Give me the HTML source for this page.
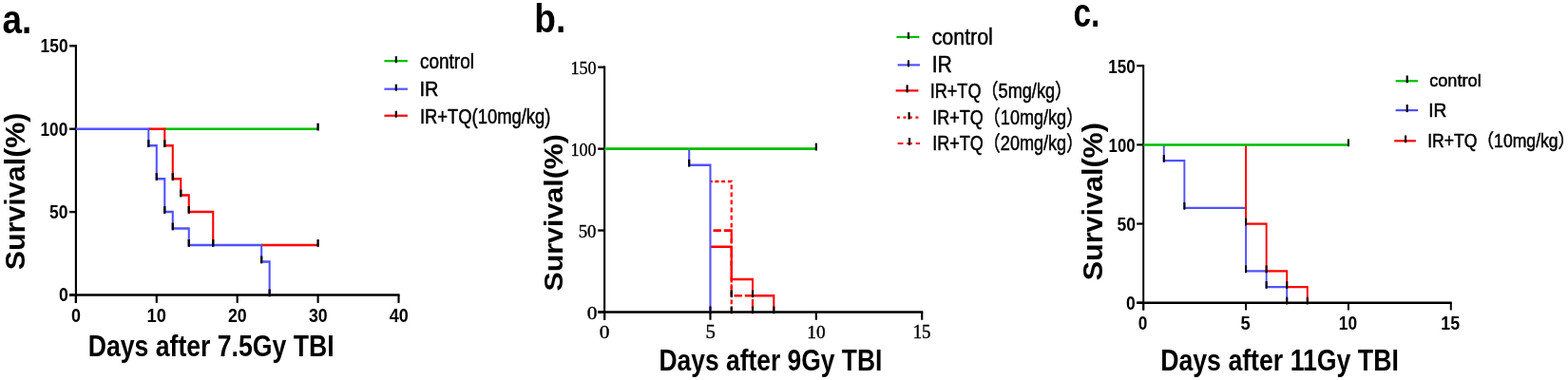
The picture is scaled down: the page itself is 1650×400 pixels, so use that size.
<!DOCTYPE html>
<html><head><meta charset="utf-8"><title>Survival curves</title>
<style>html,body{margin:0;padding:0;background:#fff;width:1650px;height:400px;overflow:hidden}svg{display:block}</style>
</head><body>
<svg width="1650" height="400" viewBox="0 0 1650 400">
<rect width="1650" height="400" fill="#fff"/>
<g transform="scale(0.83,1)">
<path d="M96.27,47.00 L96.27,318.90" stroke="#000" stroke-width="2.6" fill="none"/>
<path d="M88.07,310.50 L506.72,310.50" stroke="#000" stroke-width="2.6" fill="none"/>
<path d="M88.07,310.50 L96.27,310.50" stroke="#000" stroke-width="2.34" fill="none"/>
<path d="M88.07,223.10 L96.27,223.10" stroke="#000" stroke-width="2.34" fill="none"/>
<path d="M88.07,135.70 L96.27,135.70" stroke="#000" stroke-width="2.34" fill="none"/>
<path d="M88.07,48.30 L96.27,48.30" stroke="#000" stroke-width="2.34" fill="none"/>
<path d="M96.27,310.50 L96.27,318.90" stroke="#000" stroke-width="2.6" fill="none"/>
<path d="M198.55,310.50 L198.55,318.90" stroke="#000" stroke-width="2.6" fill="none"/>
<path d="M300.84,310.50 L300.84,318.90" stroke="#000" stroke-width="2.6" fill="none"/>
<path d="M403.13,310.50 L403.13,318.90" stroke="#000" stroke-width="2.6" fill="none"/>
<path d="M505.42,310.50 L505.42,318.90" stroke="#000" stroke-width="2.6" fill="none"/>
<path d="M208.78,135.70 L403.13,135.70" fill="none" stroke="#00bd00" stroke-width="2.6" stroke-linejoin="miter" stroke-linecap="butt"/>
<path d="M188.33,135.70 L208.78,135.70 L208.78,153.18 L219.01,153.18 L219.01,188.14 L229.24,188.14 L229.24,205.62 L239.47,205.62 L239.47,223.10 L270.16,223.10 L270.16,258.06" fill="none" stroke="#ff0000" stroke-width="2.5" stroke-linejoin="miter" stroke-linecap="butt"/>
<path d="M331.53,258.06 L403.13,258.06" fill="none" stroke="#ff0000" stroke-width="2.5" stroke-linejoin="miter" stroke-linecap="butt"/>
<path d="M96.27,135.70 L188.33,135.70 L188.33,153.18 L198.55,153.18 L198.55,188.14 L208.78,188.14 L208.78,223.10 L219.01,223.10 L219.01,240.58 L239.47,240.58 L239.47,258.06 L331.53,258.06 L331.53,275.54 L341.76,275.54 L341.76,310.50" fill="none" stroke="#5252ff" stroke-width="2.5" stroke-linejoin="miter" stroke-linecap="butt"/>
<path d="M208.78,147.18 L208.78,154.98" stroke="#000" stroke-width="2.8" fill="none"/>
<path d="M219.01,182.14 L219.01,189.94" stroke="#000" stroke-width="2.8" fill="none"/>
<path d="M229.24,199.62 L229.24,207.42" stroke="#000" stroke-width="2.8" fill="none"/>
<path d="M239.47,217.10 L239.47,224.90" stroke="#000" stroke-width="2.8" fill="none"/>
<path d="M270.16,252.06 L270.16,259.86" stroke="#000" stroke-width="2.8" fill="none"/>
<path d="M403.13,252.06 L403.13,259.86" stroke="#000" stroke-width="2.8" fill="none"/>
<path d="M188.33,147.18 L188.33,154.98" stroke="#000" stroke-width="2.8" fill="none"/>
<path d="M198.55,182.14 L198.55,189.94" stroke="#000" stroke-width="2.8" fill="none"/>
<path d="M208.78,217.10 L208.78,224.90" stroke="#000" stroke-width="2.8" fill="none"/>
<path d="M219.01,234.58 L219.01,242.38" stroke="#000" stroke-width="2.8" fill="none"/>
<path d="M239.47,252.06 L239.47,259.86" stroke="#000" stroke-width="2.8" fill="none"/>
<path d="M331.53,269.54 L331.53,277.34" stroke="#000" stroke-width="2.8" fill="none"/>
<path d="M341.76,304.50 L341.76,312.30" stroke="#000" stroke-width="2.8" fill="none"/>
<path d="M403.13,129.70 L403.13,137.50" stroke="#000" stroke-width="2.8" fill="none"/>
<path d="M487.23,64.20 L516.75,64.20" stroke="#00bd00" stroke-width="2.2" fill="none"/>
<path d="M502.17,59.20 L502.17,66.20" stroke="#000" stroke-width="2.6" fill="none"/>
<path d="M487.23,93.70 L516.75,93.70" stroke="#5252ff" stroke-width="2.2" fill="none"/>
<path d="M502.17,88.70 L502.17,95.70" stroke="#000" stroke-width="2.6" fill="none"/>
<path d="M487.23,121.75 L516.75,121.75" stroke="#ff0000" stroke-width="2.2" fill="none"/>
<path d="M502.17,116.75 L502.17,123.75" stroke="#000" stroke-width="2.6" fill="none"/>
<path d="M766.39,69.45 L766.39,336.75" stroke="#000" stroke-width="2.6" fill="none"/>
<path d="M758.07,328.45 L1170.22,328.45" stroke="#000" stroke-width="2.6" fill="none"/>
<path d="M758.07,328.45 L766.39,328.45" stroke="#000" stroke-width="2.34" fill="none"/>
<path d="M758.07,242.55 L766.39,242.55" stroke="#000" stroke-width="2.34" fill="none"/>
<path d="M758.07,156.65 L766.39,156.65" stroke="#000" stroke-width="2.34" fill="none"/>
<path d="M758.07,70.75 L766.39,70.75" stroke="#000" stroke-width="2.34" fill="none"/>
<path d="M766.39,328.45 L766.39,336.75" stroke="#000" stroke-width="2.6" fill="none"/>
<path d="M900.56,328.45 L900.56,336.75" stroke="#000" stroke-width="2.6" fill="none"/>
<path d="M1034.74,328.45 L1034.74,336.75" stroke="#000" stroke-width="2.6" fill="none"/>
<path d="M1168.92,328.45 L1168.92,336.75" stroke="#000" stroke-width="2.6" fill="none"/>
<path d="M900.56,259.73 L927.40,259.73 L927.40,294.09 L954.23,294.09 L954.23,311.27 L981.07,311.27 L981.07,328.45" fill="none" stroke="#ff0000" stroke-width="2.5" stroke-linejoin="miter" stroke-linecap="butt"/>
<path d="M900.56,191.01 L927.40,191.01 L927.40,328.45" fill="none" stroke="#ff0000" stroke-width="2.7" stroke-linejoin="miter" stroke-linecap="butt" stroke-dasharray="4.8 3.27" stroke-dashoffset="2.07"/>
<path d="M900.56,242.55 L927.40,242.55 L927.40,311.27 L954.23,311.27 L954.23,328.45" fill="none" stroke="#ff0000" stroke-width="2.7" stroke-linejoin="miter" stroke-linecap="butt" stroke-dasharray="10 3.6" stroke-dashoffset="9.9"/>
<path d="M873.73,156.65 L873.73,173.83 L900.56,173.83 L900.56,328.45" fill="none" stroke="#5252ff" stroke-width="2.5" stroke-linejoin="miter" stroke-linecap="butt"/>
<path d="M766.39,156.65 L1034.74,156.65" fill="none" stroke="#00bd00" stroke-width="2.6" stroke-linejoin="miter" stroke-linecap="butt"/>
<path d="M873.73,167.83 L873.73,175.63" stroke="#000" stroke-width="2.6" fill="none"/>
<path d="M900.56,322.45 L900.56,330.25" stroke="#000" stroke-width="2.6" fill="none"/>
<path d="M954.23,305.27 L954.23,313.07" stroke="#000" stroke-width="2.6" fill="none"/>
<path d="M981.07,322.45 L981.07,330.25" stroke="#000" stroke-width="2.6" fill="none"/>
<path d="M927.40,322.45 L927.40,330.25" stroke="#000" stroke-width="2.6" fill="none"/>
<path d="M927.40,305.27 L927.40,313.07" stroke="#000" stroke-width="2.6" fill="none"/>
<path d="M954.23,322.45 L954.23,330.25" stroke="#000" stroke-width="2.6" fill="none"/>
<path d="M1034.74,150.65 L1034.74,158.45" stroke="#000" stroke-width="2.6" fill="none"/>
<path d="M1136.63,39.00 L1165.54,39.00" stroke="#00bd00" stroke-width="2.2" fill="none"/>
<path d="M1151.81,34.00 L1151.81,41.00" stroke="#000" stroke-width="2.6" fill="none"/>
<path d="M1138.07,68.40 L1166.27,68.40" stroke="#5252ff" stroke-width="2.2" fill="none"/>
<path d="M1151.81,63.40 L1151.81,70.40" stroke="#000" stroke-width="2.6" fill="none"/>
<path d="M1135.66,95.40 L1164.34,95.40" stroke="#ff0000" stroke-width="2.2" fill="none"/>
<path d="M1150.12,89.40 L1150.12,97.40" stroke="#000" stroke-width="2.6" fill="none"/>
<path d="M1137.35,123.60 L1164.46,123.60" stroke="#ff0000" stroke-width="2.2" fill="none" stroke-dasharray="3.6 4.2" stroke-dashoffset="0"/>
<path d="M1152.53,118.10 L1152.53,125.60" stroke="#000" stroke-width="2.6" fill="none"/>
<path d="M1138.07,151.00 L1166.27,151.00" stroke="#ff0000" stroke-width="2.2" fill="none" stroke-dasharray="7 4.5" stroke-dashoffset="0"/>
<path d="M1153.01,145.00 L1153.01,153.00" stroke="#000" stroke-width="2.6" fill="none"/>
<path d="M1449.64,68.05 L1449.64,326.50" stroke="#000" stroke-width="2.4" fill="none"/>
<path d="M1441.20,318.70 L1840.72,318.70" stroke="#000" stroke-width="2.4" fill="none"/>
<path d="M1441.20,318.70 L1449.64,318.70" stroke="#000" stroke-width="2.16" fill="none"/>
<path d="M1441.20,235.55 L1449.64,235.55" stroke="#000" stroke-width="2.16" fill="none"/>
<path d="M1441.20,152.40 L1449.64,152.40" stroke="#000" stroke-width="2.16" fill="none"/>
<path d="M1441.20,69.25 L1449.64,69.25" stroke="#000" stroke-width="2.16" fill="none"/>
<path d="M1449.64,318.70 L1449.64,326.50" stroke="#000" stroke-width="2.4" fill="none"/>
<path d="M1579.60,318.70 L1579.60,326.50" stroke="#000" stroke-width="2.4" fill="none"/>
<path d="M1709.56,318.70 L1709.56,326.50" stroke="#000" stroke-width="2.4" fill="none"/>
<path d="M1839.52,318.70 L1839.52,326.50" stroke="#000" stroke-width="2.4" fill="none"/>
<path d="M1475.63,152.40 L1475.63,169.03 L1501.62,169.03 L1501.62,218.92 L1579.60,218.92 L1579.60,285.44 L1605.59,285.44 L1605.59,302.07 L1631.58,302.07 L1631.58,318.70" fill="none" stroke="#5252ff" stroke-width="2.3" stroke-linejoin="miter" stroke-linecap="butt"/>
<path d="M1579.60,152.40 L1579.60,235.55 L1605.59,235.55 L1605.59,285.44 L1631.58,285.44 L1631.58,302.07 L1657.57,302.07 L1657.57,318.70" fill="none" stroke="#ff0000" stroke-width="2.3" stroke-linejoin="miter" stroke-linecap="butt"/>
<path d="M1449.64,152.40 L1709.56,152.40" fill="none" stroke="#00bd00" stroke-width="2.5" stroke-linejoin="miter" stroke-linecap="butt"/>
<path d="M1475.63,163.03 L1475.63,170.83" stroke="#000" stroke-width="2.5" fill="none"/>
<path d="M1501.62,212.92 L1501.62,220.72" stroke="#000" stroke-width="2.5" fill="none"/>
<path d="M1579.60,279.44 L1579.60,287.24" stroke="#000" stroke-width="2.5" fill="none"/>
<path d="M1605.59,296.07 L1605.59,303.87" stroke="#000" stroke-width="2.5" fill="none"/>
<path d="M1631.58,312.70 L1631.58,320.50" stroke="#000" stroke-width="2.5" fill="none"/>
<path d="M1579.60,229.55 L1579.60,237.35" stroke="#000" stroke-width="2.5" fill="none"/>
<path d="M1605.59,279.44 L1605.59,287.24" stroke="#000" stroke-width="2.5" fill="none"/>
<path d="M1631.58,296.07 L1631.58,303.87" stroke="#000" stroke-width="2.5" fill="none"/>
<path d="M1657.57,312.70 L1657.57,320.50" stroke="#000" stroke-width="2.5" fill="none"/>
<path d="M1709.56,146.40 L1709.56,154.20" stroke="#000" stroke-width="2.5" fill="none"/>
<path d="M1769.40,85.30 L1797.59,85.30" stroke="#00bd00" stroke-width="2.2" fill="none"/>
<path d="M1783.98,79.50 L1783.98,87.30" stroke="#000" stroke-width="2.6" fill="none"/>
<path d="M1769.40,116.10 L1797.59,116.10" stroke="#5252ff" stroke-width="2.2" fill="none"/>
<path d="M1783.98,110.10 L1783.98,118.10" stroke="#000" stroke-width="2.6" fill="none"/>
<path d="M1767.71,148.30 L1795.06,148.30" stroke="#ff0000" stroke-width="2.2" fill="none"/>
<path d="M1782.05,142.50 L1782.05,150.30" stroke="#000" stroke-width="2.6" fill="none"/>
</g>
<text transform="translate(2.39,35.17) scale(0.8593,1)" font-family="'Liberation Sans', 'Noto Sans CJK SC', sans-serif" font-weight="700" font-size="42.91" fill="#000">a.</text>
<text transform="translate(42.62,54.70) scale(0.8554,1)" font-family="'Liberation Sans', 'Noto Sans CJK SC', sans-serif" font-weight="700" font-size="20.28" fill="#000">150</text>
<text transform="translate(42.48,142.60) scale(0.8626,1)" font-family="'Liberation Sans', 'Noto Sans CJK SC', sans-serif" font-weight="700" font-size="20.00" fill="#000">100</text>
<text transform="translate(51.98,230.10) scale(0.8628,1)" font-family="'Liberation Sans', 'Noto Sans CJK SC', sans-serif" font-weight="700" font-size="20.28" fill="#000">50</text>
<text transform="translate(61.99,317.40) scale(0.8780,1)" font-family="'Liberation Sans', 'Noto Sans CJK SC', sans-serif" font-weight="700" font-size="20.14" fill="#000">0</text>
<text transform="translate(74.93,338.79) scale(0.8702,1)" font-family="'Liberation Sans', 'Noto Sans CJK SC', sans-serif" font-weight="700" font-size="20.56" fill="#000">0</text>
<text transform="translate(154.51,338.79) scale(0.8903,1)" font-family="'Liberation Sans', 'Noto Sans CJK SC', sans-serif" font-weight="700" font-size="20.56" fill="#000">10</text>
<text transform="translate(239.88,338.79) scale(0.8645,1)" font-family="'Liberation Sans', 'Noto Sans CJK SC', sans-serif" font-weight="700" font-size="20.56" fill="#000">20</text>
<text transform="translate(324.91,338.79) scale(0.8609,1)" font-family="'Liberation Sans', 'Noto Sans CJK SC', sans-serif" font-weight="700" font-size="20.56" fill="#000">30</text>
<text transform="translate(409.73,338.79) scale(0.8758,1)" font-family="'Liberation Sans', 'Noto Sans CJK SC', sans-serif" font-weight="700" font-size="20.56" fill="#000">40</text>
<text transform="translate(25.61,284.31) rotate(-90) scale(1.0472,1)" font-family="'Liberation Sans', 'Noto Sans CJK SC', sans-serif" font-weight="700" font-size="29.08" fill="#000">Survival(%)</text>
<text transform="translate(92.67,374.80) scale(0.8280,1)" font-family="'Liberation Sans', 'Noto Sans CJK SC', sans-serif" font-weight="700" font-size="32.17" fill="#000">Days after 7.5Gy TBI</text>
<text transform="translate(442.05,72.00) scale(0.8701,1)" font-family="'Liberation Sans', 'Noto Sans CJK SC', sans-serif" font-weight="400" font-size="21.79" fill="#000" stroke="#000" stroke-width="0.5">control</text>
<text transform="translate(441.50,100.90) scale(0.8961,1)" font-family="'Liberation Sans', 'Noto Sans CJK SC', sans-serif" font-weight="400" font-size="22.32" fill="#000" stroke="#000" stroke-width="0.5">IR</text>
<text transform="translate(441.95,129.50) scale(0.8239,1)" font-family="'Liberation Sans', 'Noto Sans CJK SC', sans-serif" font-weight="400" font-size="22.32" fill="#000" stroke="#000" stroke-width="0.5">IR+TQ(10mg/kg)</text>
<text transform="translate(562.34,34.32) scale(0.8612,1)" font-family="'Liberation Sans', 'Noto Sans CJK SC', sans-serif" font-weight="700" font-size="43.06" fill="#000">b.</text>
<text transform="translate(600.47,78.05) scale(0.9153,1)" font-family="'Liberation Serif', 'Noto Serif CJK SC', serif" font-weight="400" font-size="19.78" fill="#000" stroke="#000" stroke-width="0.4">150</text>
<text transform="translate(600.48,164.10) scale(0.9082,1)" font-family="'Liberation Serif', 'Noto Serif CJK SC', serif" font-weight="400" font-size="19.85" fill="#000" stroke="#000" stroke-width="0.4">100</text>
<text transform="translate(608.67,249.80) scale(0.9530,1)" font-family="'Liberation Serif', 'Noto Serif CJK SC', serif" font-weight="400" font-size="19.70" fill="#000" stroke="#000" stroke-width="0.4">50</text>
<text transform="translate(617.84,336.00) scale(1.0875,1)" font-family="'Liberation Serif', 'Noto Serif CJK SC', serif" font-weight="400" font-size="19.70" fill="#000" stroke="#000" stroke-width="0.4">0</text>
<text transform="translate(630.84,355.90) scale(1.0875,1)" font-family="'Liberation Serif', 'Noto Serif CJK SC', serif" font-weight="400" font-size="19.70" fill="#000" stroke="#000" stroke-width="0.4">0</text>
<text transform="translate(742.50,355.90) scale(1.0375,1)" font-family="'Liberation Serif', 'Noto Serif CJK SC', serif" font-weight="400" font-size="20.00" fill="#000" stroke="#000" stroke-width="0.4">5</text>
<text transform="translate(849.26,355.90) scale(0.9800,1)" font-family="'Liberation Serif', 'Noto Serif CJK SC', serif" font-weight="400" font-size="19.70" fill="#000" stroke="#000" stroke-width="0.4">10</text>
<text transform="translate(960.70,355.90) scale(0.9425,1)" font-family="'Liberation Serif', 'Noto Serif CJK SC', serif" font-weight="400" font-size="20.00" fill="#000" stroke="#000" stroke-width="0.4">15</text>
<text transform="translate(591.92,306.61) rotate(-90) scale(1.0692,1)" font-family="'Liberation Sans', 'Noto Sans CJK SC', sans-serif" font-weight="700" font-size="28.45" fill="#000">Survival(%)</text>
<text transform="translate(693.48,389.50) scale(0.8292,1)" font-family="'Liberation Sans', 'Noto Sans CJK SC', sans-serif" font-weight="700" font-size="31.88" fill="#000">Days after 9Gy TBI</text>
<text transform="translate(980.64,47.00) scale(0.9028,1)" font-family="'Liberation Sans', 'Noto Sans CJK SC', sans-serif" font-weight="400" font-size="23.72" fill="#000" stroke="#000" stroke-width="0.5">control</text>
<text transform="translate(980.70,75.60) scale(0.9014,1)" font-family="'Liberation Sans', 'Noto Sans CJK SC', sans-serif" font-weight="400" font-size="23.48" fill="#000" stroke="#000" stroke-width="0.5">IR</text>
<text transform="translate(978.67,102.80) scale(0.8337,1)" font-family="'Liberation Sans', 'Noto Sans CJK SC', sans-serif" font-weight="400" font-size="21.74" fill="#000" stroke="#000" stroke-width="0.5">IR+TQ（5mg/kg）</text>
<text transform="translate(981.18,131.30) scale(0.8250,1)" font-family="'Liberation Sans', 'Noto Sans CJK SC', sans-serif" font-weight="400" font-size="21.88" fill="#000" stroke="#000" stroke-width="0.5">IR+TQ（10mg/kg）</text>
<text transform="translate(981.18,158.10) scale(0.8250,1)" font-family="'Liberation Sans', 'Noto Sans CJK SC', sans-serif" font-weight="400" font-size="21.88" fill="#000" stroke="#000" stroke-width="0.5">IR+TQ（20mg/kg）</text>
<text transform="translate(1129.46,27.58) scale(0.7982,1)" font-family="'Liberation Sans', 'Noto Sans CJK SC', sans-serif" font-weight="700" font-size="41.82" fill="#000">c.</text>
<text transform="translate(1166.29,76.54) scale(0.8157,1)" font-family="'Liberation Sans', 'Noto Sans CJK SC', sans-serif" font-weight="700" font-size="20.92" fill="#000">150</text>
<text transform="translate(1166.61,159.70) scale(0.8371,1)" font-family="'Liberation Sans', 'Noto Sans CJK SC', sans-serif" font-weight="700" font-size="20.00" fill="#000">100</text>
<text transform="translate(1175.47,242.80) scale(0.8924,1)" font-family="'Liberation Sans', 'Noto Sans CJK SC', sans-serif" font-weight="700" font-size="19.72" fill="#000">50</text>
<text transform="translate(1185.00,325.81) scale(0.8990,1)" font-family="'Liberation Sans', 'Noto Sans CJK SC', sans-serif" font-weight="700" font-size="19.44" fill="#000">0</text>
<text transform="translate(1197.81,346.80) scale(0.8632,1)" font-family="'Liberation Sans', 'Noto Sans CJK SC', sans-serif" font-weight="700" font-size="20.00" fill="#000">0</text>
<text transform="translate(1305.45,346.80) scale(0.9070,1)" font-family="'Liberation Sans', 'Noto Sans CJK SC', sans-serif" font-weight="700" font-size="20.29" fill="#000">5</text>
<text transform="translate(1408.77,346.80) scale(0.8657,1)" font-family="'Liberation Sans', 'Noto Sans CJK SC', sans-serif" font-weight="700" font-size="20.00" fill="#000">10</text>
<text transform="translate(1516.24,346.80) scale(0.8796,1)" font-family="'Liberation Sans', 'Noto Sans CJK SC', sans-serif" font-weight="700" font-size="20.29" fill="#000">15</text>
<text transform="translate(1159.71,295.32) rotate(-90) scale(1.0529,1)" font-family="'Liberation Sans', 'Noto Sans CJK SC', sans-serif" font-weight="700" font-size="29.01" fill="#000">Survival(%)</text>
<text transform="translate(1221.16,389.50) scale(0.8376,1)" font-family="'Liberation Sans', 'Noto Sans CJK SC', sans-serif" font-weight="700" font-size="31.88" fill="#000">Days after 11Gy TBI</text>
<text transform="translate(1504.18,91.25) scale(0.9578,1)" font-family="'Liberation Sans', 'Noto Sans CJK SC', sans-serif" font-weight="400" font-size="18.97" fill="#000" stroke="#000" stroke-width="0.5">control</text>
<text transform="translate(1503.27,123.00) scale(0.9806,1)" font-family="'Liberation Sans', 'Noto Sans CJK SC', sans-serif" font-weight="400" font-size="19.57" fill="#000" stroke="#000" stroke-width="0.5">IR</text>
<text transform="translate(1502.16,155.00) scale(0.8838,1)" font-family="'Liberation Sans', 'Noto Sans CJK SC', sans-serif" font-weight="400" font-size="19.93" fill="#000" stroke="#000" stroke-width="0.5">IR+TQ（10mg/kg）</text>
</svg>
</body></html>
